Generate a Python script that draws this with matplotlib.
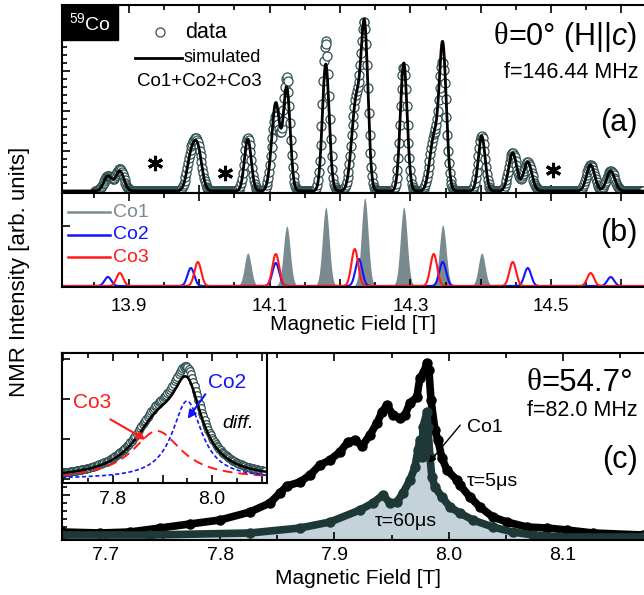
import numpy as np
import matplotlib.pyplot as plt
from matplotlib.lines import Line2D
from matplotlib.patches import Rectangle, FancyArrowPatch
from matplotlib.ticker import MultipleLocator, FuncFormatter

plt.rcParams['font.family'] = ['Liberation Sans', 'DejaVu Sans']
plt.rcParams['mathtext.fontset'] = 'custom'
plt.rcParams['mathtext.rm'] = 'Liberation Sans'
plt.rcParams['mathtext.it'] = 'Liberation Sans:italic'

# ---- theta = 0 deg spectrum, f = 146.44 MHz ----
# simulated lines of each site (panel b): centre [T], height
co1_pos = [14.0690, 14.1244, 14.1798, 14.2352, 14.2906, 14.3460, 14.4014]
co1_amp = [33, 60, 79, 88, 79, 61, 33]
co2_pos = [13.8702, 13.9881, 14.1088, 14.2267, 14.3460, 14.4668, 14.5847]
co2_amp = [9, 18, 23, 27, 24, 18, 9]
co3_pos = [13.8872, 13.9980, 14.1088, 14.2210, 14.3332, 14.4455, 14.5562]
co3_amp = [13, 24, 32, 37, 32, 24, 13]
line_sigma = 0.0048

# sum Co1+Co2+Co3 (panel a) and measured line heights
sim_co1_amp = [52, 102, 127, 152, 128, 107, 55]
sim_co2_amp = [15, 32, 37, 43, 38, 29, 20]
sim_co3_amp = [20, 40, 51, 59, 51, 38, 26]
data_co1_amp = [53, 112, 150, 150, 124, 92, 55]
data_co2_amp = [15, 33, 30, 43, 33, 29, 20]
data_co3_amp = [22, 42, 45, 59, 51, 38, 26]
sim_sigma = 0.0058
star_field = [13.937, 14.036, 14.502]
star_int = [28, 18, 21]

# ---- theta = 54.7 deg, f = 82.0 MHz ----
tau5_field = [7.6615, 7.6947, 7.7210, 7.7473, 7.7735, 7.7998, 7.8260, 7.8435,
              7.8523, 7.8584, 7.8698, 7.8786, 7.8873, 7.8961, 7.9048, 7.9118,
              7.9179, 7.9241, 7.9311, 7.9372, 7.9416, 7.9460, 7.9512, 7.9573,
              7.9617, 7.9661, 7.9722, 7.9748, 7.9783, 7.9810, 7.9827, 7.9845,
              7.9880, 7.9906, 7.9941, 7.9985, 8.0072, 8.0098, 8.0186, 8.0274,
              8.0387, 8.0510, 8.0685, 8.0860, 8.1035, 8.1263, 8.1700]
tau5_int = [3, 2, 3, 7, 11, 15, 23, 32, 42, 49, 53, 60, 70, 75, 83, 93,
            95, 89, 100, 112, 123, 130, 120, 117, 120, 132, 138, 157, 163, 172, 165, 135,
            105, 95, 77, 65, 55, 50, 38, 28, 18, 13, 8, 7, 5, 2, 0]
tau60_field = [7.6615, 7.7385, 7.8260, 7.8698, 7.8961, 7.9223, 7.9337, 7.9424,
               7.9486, 7.9547, 7.9600, 7.9661, 7.9705, 7.9731, 7.9748, 7.9766,
               7.9775, 7.9810, 7.9818, 7.9836, 7.9853, 7.9880, 7.9941, 8.0011,
               8.0098, 8.0212, 8.0387, 8.0562, 8.0737, 8.0974, 8.1700]
tau60_int = [0, 0, 2, 7, 13, 25, 32, 40, 32, 33, 42, 55, 68, 85, 95, 78,
             108, 123, 108, 78, 58, 48, 38, 28, 22, 15, 8, 3, 0, -2, -2]

# inset: difference spectrum fitted by two Lorentzians (Co3, Co2)
diff_pos = [7.8889, 7.9495]
diff_amp = [48, 78]
diff_hwhm = [0.0606, 0.0364]
diff_data_amp = [52, 86]

gray = '#7a8b90'
blue = '#1414ff'
red = '#ff1a1a'
teal = '#1e3838'
circ = '#2f4f4f'


def gauss_lines(b, pos, amp, sig):
    out = np.zeros_like(b)
    for p, a in zip(pos, amp):
        out += a * np.exp(-0.5 * ((b - p) / sig) ** 2)
    return out


def lorentz(b, p, a, w):
    return a / (1 + ((b - p) / w) ** 2)


W, H = 644, 595
fig = plt.figure(figsize=(W / 100, H / 100), dpi=100)


def rect(l, t, r, b):
    return [l / W, 1 - b / H, (r - l) / W, (b - t) / H]


def fp(x, y):
    return (x / W, 1 - y / H)


ax_a = fig.add_axes(rect(62, 5, 644, 193))
ax_b = fig.add_axes(rect(62, 193, 644, 287))
ax_c = fig.add_axes(rect(62, 353, 644, 540))
ax_in = fig.add_axes(rect(62, 353, 267, 483))

# panel (a)
bf = np.linspace(13.805, 14.632, 2000)
sim = (gauss_lines(bf, co1_pos, sim_co1_amp, line_sigma)
       + gauss_lines(bf, co2_pos, sim_co2_amp, sim_sigma)
       + gauss_lines(bf, co3_pos, sim_co3_amp, sim_sigma))
bd = np.arange(13.852, 14.632, 0.0012)
dat = (gauss_lines(bd, co1_pos, data_co1_amp, line_sigma)
       + gauss_lines(bd, co2_pos, data_co2_amp, sim_sigma)
       + gauss_lines(bd, co3_pos, data_co3_amp, sim_sigma))
ax_a.plot(bd, dat, ls='none', marker='o', ms=6.5, mfc='white', mec=circ, mew=0.9)
ax_a.plot(bf, sim, color='black', lw=2)
ax_a.plot(star_field, star_int, ls='none', marker=(6, 2, 0), ms=11, mew=2.2, color='black')
ax_a.set_xlim(13.805, 14.632)
ax_a.set_ylim(-2, 186)

# panel (b)
ax_b.fill_between(bf, 0, gauss_lines(bf, co1_pos, co1_amp, line_sigma), color=gray, lw=0)
ax_b.plot(bf, gauss_lines(bf, co2_pos, co2_amp, line_sigma), color=blue, lw=1.5)
ax_b.plot(bf, gauss_lines(bf, co3_pos, co3_amp, line_sigma), color=red, lw=1.5)
ax_b.set_xlim(13.805, 14.632)
ax_b.set_ylim(-1, 93)

# panel (c)
ax_c.fill_between(tau60_field, -5, tau60_int, color='#c4d2da', lw=0)
ax_c.plot(tau5_field, tau5_int, color='black', lw=5.5, marker='o', ms=6.5,
          solid_joinstyle='round', solid_capstyle='round')
ax_c.plot(tau60_field, tau60_int, color=teal, lw=5.5, marker='o', ms=6.5,
          solid_joinstyle='round', solid_capstyle='round')
ax_c.set_xlim(7.6615, 8.171)
ax_c.set_ylim(-5, 182)

# inset
bi = np.linspace(7.697, 8.111, 600)
fit3 = lorentz(bi, diff_pos[0], diff_amp[0], diff_hwhm[0])
fit2 = lorentz(bi, diff_pos[1], diff_amp[1], diff_hwhm[1])
bid = np.arange(7.700, 8.108, 0.0025)
dd = (lorentz(bid, diff_pos[0], diff_data_amp[0], diff_hwhm[0])
      + lorentz(bid, diff_pos[1], diff_data_amp[1], diff_hwhm[1]))
ax_in.plot(bid, dd, ls='none', marker='o', ms=5.5, mfc='white', mec=circ, mew=0.9)
ax_in.plot(bi, fit3, color=red, lw=1.4, dashes=(5, 3))
ax_in.plot(bi, fit2, color=blue, lw=1.2, dashes=(2.5, 1.5))
ax_in.plot(bi, fit2 + fit3, color='black', lw=1.8)
ax_in.set_xlim(7.697, 8.111)
ax_in.set_ylim(-4, 126)


def odd_lab(v, pos):
    return f"{v:.1f}" if round(v * 10) % 2 == 1 else ""


def even_lab(v, pos):
    return f"{v:.1f}" if round(v * 10) % 2 == 0 else ""


for ax in (ax_a, ax_b, ax_c, ax_in):
    for s in ax.spines.values():
        s.set_linewidth(1.5)
    ax.xaxis.set_major_locator(MultipleLocator(0.1))
    ax.xaxis.set_minor_locator(MultipleLocator(0.05))
    ax.tick_params(which='both', direction='in', top=True, width=1.2)
    ax.tick_params(which='major', length=6)
    ax.tick_params(which='minor', length=3.5)
for ax in (ax_a, ax_b, ax_c):
    ax.spines['right'].set_visible(False)

ax_a.yaxis.set_major_locator(MultipleLocator(40))
ax_a.yaxis.set_minor_locator(MultipleLocator(8))
ax_a.tick_params(labelbottom=False, labelleft=False)
ax_b.yaxis.set_major_locator(MultipleLocator(60))
ax_b.xaxis.set_major_formatter(FuncFormatter(odd_lab))
ax_b.tick_params(axis='x', labelsize=13.5, pad=8)
ax_b.tick_params(labelleft=False)
ax_c.yaxis.set_major_locator(MultipleLocator(40))
ax_c.yaxis.set_minor_locator(MultipleLocator(8))
ax_c.tick_params(axis='x', labelsize=14, pad=5)
ax_c.tick_params(labelleft=False)
ax_in.yaxis.set_major_locator(MultipleLocator(40))
ax_in.xaxis.set_major_formatter(FuncFormatter(even_lab))
ax_in.tick_params(axis='x', labelsize=14, pad=6)
ax_in.tick_params(labelleft=False)

# text and annotations
fig.text(*fp(20, 272), 'NMR Intensity [arb. units]', rotation=90, fontsize=16,
         ha='center', va='center')
fig.text(*fp(353, 325), 'Magnetic Field [T]', fontsize=15, ha='center', va='center')
fig.text(*fp(358, 578), 'Magnetic Field [T]', fontsize=15, ha='center', va='center')

fig.add_artist(Rectangle(fp(62, 40), 56 / W, 35 / H, color='black', transform=fig.transFigure))
fig.text(*fp(90, 23), r'$^{59}$Co', color='white', fontsize=14, ha='center', va='center')

fig.add_artist(Line2D([160 / W], [1 - 32 / H], marker='o', ms=6.5, mfc='white', mec=circ,
                      mew=0.9, transform=fig.transFigure))
fig.text(*fp(185, 33), 'data', fontsize=15.5, ha='left', va='center')
fig.add_artist(Line2D([135 / W, 182 / W], [1 - 58 / H] * 2, color='black', lw=2,
                      transform=fig.transFigure))
fig.text(*fp(184, 58), 'simulated', fontsize=13, ha='left', va='center')
fig.text(*fp(137, 81), 'Co1+Co2+Co3', fontsize=13.5, ha='left', va='center')

renderer = fig.canvas.get_renderer()


def theta_text(x, y, rest, size):
    # the theta in the original is a serif glyph
    t = fig.text(*fp(x, y), rest, fontsize=size, ha='right', va='center')
    bb = t.get_window_extent(renderer)
    fig.text(bb.x0 / W, 1 - y / H, 'θ', fontsize=size, family='Liberation Serif',
             ha='right', va='center')


theta_text(637, 37, r'=0° (H||$c$)', 22)
fig.text(*fp(638, 72), 'f=146.44 MHz', fontsize=15.5, ha='right', va='center')
fig.text(*fp(638, 123), '(a)', fontsize=22, ha='right', va='center')
fig.text(*fp(638, 233), '(b)', fontsize=22, ha='right', va='center')

for yy, lab, col in ((212, 'Co1', gray), (235, 'Co2', blue), (257, 'Co3', red)):
    fig.add_artist(Line2D([68 / W, 110 / W], [1 - yy / H] * 2, color=col, lw=1.8,
                          transform=fig.transFigure))
    fig.text(*fp(113, yy), lab, color=col, fontsize=14, ha='left', va='center')

theta_text(633, 383, '=54.7°', 22.5)
fig.text(*fp(638, 410), 'f=82.0 MHz', fontsize=15.5, ha='right', va='center')
fig.text(*fp(638, 460), '(c)', fontsize=22, ha='right', va='center')
fig.text(*fp(467, 428), 'Co1', fontsize=14, ha='left', va='center')
fig.text(*fp(467, 482), 'τ=5μs', fontsize=14, ha='left', va='center')
fig.text(*fp(375, 522), 'τ=60μs', fontsize=14, ha='left', va='center')
fig.add_artist(FancyArrowPatch(fp(462, 423), fp(427, 465), transform=fig.transFigure,
                               arrowstyle='-|>', mutation_scale=10, lw=1, color='black'))

fig.text(*fp(73, 402), 'Co3', color=red, fontsize=15, ha='left', va='center')
fig.text(*fp(208, 382), 'Co2', color=blue, fontsize=15, ha='left', va='center')
fig.text(*fp(222, 423), 'diff.', fontsize=14, style='italic', ha='left', va='center')
fig.add_artist(FancyArrowPatch(fp(108, 418), fp(148, 441), transform=fig.transFigure,
                               arrowstyle='-|>', mutation_scale=12, lw=1.5, color=red))
fig.add_artist(FancyArrowPatch(fp(207, 392), fp(186, 421), transform=fig.transFigure,
                               arrowstyle='-|>', mutation_scale=12, lw=1.5, color=blue))

fig.savefig('out.png', dpi=100)
